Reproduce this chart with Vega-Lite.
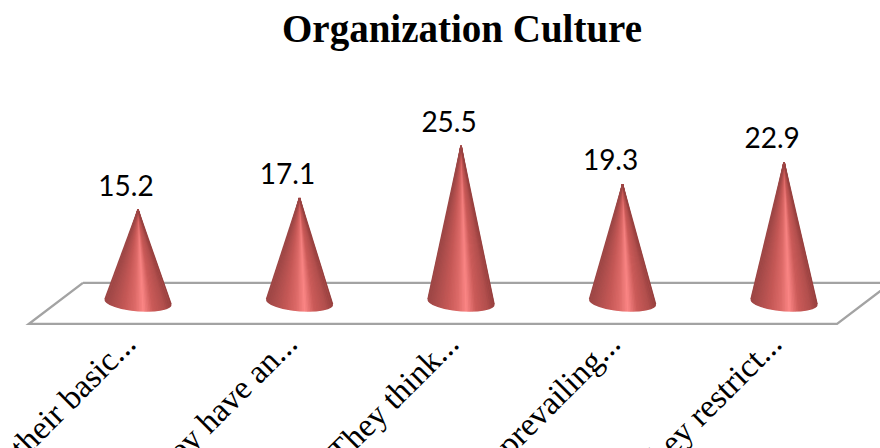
{
"$schema":"https://vega.github.io/schema/vega-lite/v6.json",
"width":880,"height":398,
"autosize":{"type":"none"},
"padding":{"left":0,"top":50,"right":0,"bottom":0},
"background":"white",
"title":{"text":"Organization Culture","font":"Liberation Serif","fontWeight":"bold","fontSize":39,"color":"#000000","anchor":"start","frame":"group","offset":0,"dx":282},
"config":{"view":{"stroke":null}},
"datasets":{
"scores":[
{"idx":0,"statement":"their basic...","value":15.2},
{"idx":1,"statement":"they have an...","value":17.1},
{"idx":2,"statement":"They think...","value":25.5},
{"idx":3,"statement":"prevailing...","value":19.3},
{"idx":4,"statement":"they restrict...","value":22.9}
],
"floor":[
{"fx":-0.341,"fy":3.42},
{"fx":4.663,"fy":3.42},
{"fx":4.328,"fy":-3.19},
{"fx":-0.675,"fy":-3.19},
{"fx":-0.341,"fy":3.42}
]},
"layer":[
{"data":{"name":"floor"},
 "mark":{"type":"line","stroke":"#a3a3a3","strokeWidth":2.4,"clip":true},
 "transform":[{"window":[{"op":"row_number","as":"ord"}]}],
 "encoding":{
  "x":{"field":"fx","type":"quantitative","scale":{"domain":[-0.8545,4.594],"nice":false,"zero":false},"axis":{"values":[0,1,2,3,4],"title":null,"domain":false,"ticks":false,"grid":false,
    "labelExpr":"['their basic...','they have an...','They think...','prevailing...','they restrict...'][datum.value]",
    "labelAngle":-45,"labelAlign":"right","labelBaseline":"middle","labelFont":"Liberation Serif","labelFontSize":33,"labelColor":"#000000","labelOverlap":false,"labelBound":false,"labelFlush":false,"labelLimit":400,"labelPadding":0,"labelOffset":-8,"offset":-110}},
  "y":{"field":"fy","type":"quantitative","scale":{"domain":[-23.2,40.97],"nice":false,"zero":false},"axis":null},
  "order":{"field":"ord"}}},
{"data":{"name":"scores"},
 "transform":[
  {"calculate":"[-1,-0.985,-0.94,-0.85,-0.7,-0.5,-0.25,0,0.25,0.5,0.7,0.85,0.94,0.985,1]","as":"t"},
  {"flatten":["t"]},
  {"calculate":"datum.idx+datum.t*33.5/161.5","as":"px"},
  {"calculate":"0.275-0.405*datum.t","as":"side"},
  {"calculate":"datum.side+(datum.value-datum.side)*(1-abs(datum.t))","as":"top"},
  {"calculate":"datum.side-1.45*sqrt(1-datum.t*datum.t)","as":"bottom"}
 ],
 "mark":{"type":"area","fill":{"gradient":"linear","x1":0,"x2":1,"y1":0,"y2":0,"stops":[
  {"offset":0,"color":"#9c4645"},{"offset":0.1,"color":"#a94c4b"},{"offset":0.3,"color":"#c65957"},{"offset":0.45,"color":"#dc6a68"},{"offset":0.58,"color":"#fb8685"},{"offset":0.72,"color":"#cb5b59"},{"offset":0.9,"color":"#b24f4d"},{"offset":1,"color":"#97403f"}]}},
 "encoding":{
  "x":{"field":"px","type":"quantitative"},
  "y":{"field":"top","type":"quantitative"},
  "y2":{"field":"bottom"},
  "detail":{"field":"idx"}}},
{"data":{"name":"scores"},
 "transform":[
  {"calculate":"[0.15,0.1,0.2,0.05,0.25,0,0.3,-0.05,0.35,-0.1,0.4,-0.15,0.45,-0.2,0.5,-0.25,0.55,-0.3,0.6,-0.35,0.65,-0.4,0.7,-0.45,0.75,-0.5,0.8,-0.55,0.85,-0.6,0.9,-0.65,0.95,-0.7,1,-0.75,-0.8,-0.85,-0.9,-0.95,-1]","as":"t"},
  {"flatten":["t"]},
  {"calculate":"datum.idx+datum.t*33/161.5","as":"px"},
  {"calculate":"0.275-0.405*datum.t-1.45*sqrt(1-datum.t*datum.t)+0.1","as":"bottom"}
 ],
 "mark":{"type":"rule","strokeWidth":1.5,"clip":true},
 "encoding":{
  "x":{"field":"idx","type":"quantitative"},
  "x2":{"field":"px"},
  "y":{"field":"value","type":"quantitative"},
  "y2":{"field":"bottom"},
  "color":{"field":"t","type":"quantitative","legend":null,"scale":{"domain":[-1,-0.8,-0.4,-0.1,0.16,0.44,0.8,1],"range":["#9c4645","#a94c4b","#c65957","#dc6a68","#fb8685","#cb5b59","#b24f4d","#97403f"]}}}},
{"data":{"name":"scores"},
 "mark":{"type":"text","font":"Lato","fontSize":28,"color":"#000000","baseline":"middle","align":"center","dx":-12,"dy":-22},
 "encoding":{
  "x":{"field":"idx","type":"quantitative"},
  "y":{"field":"value","type":"quantitative"},
  "text":{"field":"value","type":"quantitative","format":".1f"}}}
]}
